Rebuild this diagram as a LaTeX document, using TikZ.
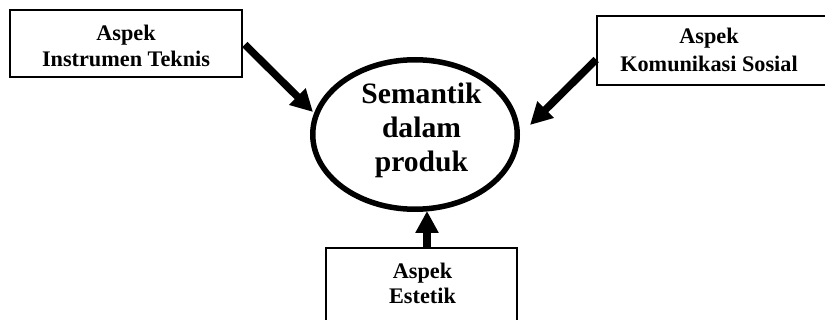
\documentclass[tikz,border=0pt]{standalone}
\usepackage{fontspec}
\setmainfont{Liberation Serif}
\usetikzlibrary{arrows.meta,shapes.geometric}
\tikzset{
  aspectbox/.style={draw, line width=1.6pt, rectangle, inner sep=0pt},
  boxtext/.style={align=center, inner sep=0pt, font=\bfseries\fontsize{22.25}{26}\selectfont},
  semellipse/.style={draw, line width=5.5pt, ellipse, inner sep=0pt,
    minimum width=204.5pt, minimum height=149.5pt},
  semtext/.style={align=center, inner sep=0pt, font=\bfseries\fontsize{29.6}{34.2}\selectfont},
  bigarrow/.style={line width=7.5pt, -{Triangle[width=22pt,length=22pt]}}
}
\begin{document}
\begin{tikzpicture}[x=1pt, y=-1pt]
\useasboundingbox (0,0) rectangle (825,320);
\node[aspectbox, minimum width=232pt, minimum height=67pt] (lb) at (126,43.5) {};
\node[boxtext] (lbt) at (126,46) {Aspek\\Instrumen Teknis};
\node[aspectbox, minimum width=229pt, minimum height=69pt] (rb) at (711.5,50.5) {};
\node[boxtext, font=\bfseries\fontsize{22.25}{28.4}\selectfont] (rbt) at (709,50) {Aspek\\Komunikasi Sosial};
\node[aspectbox, minimum width=191pt, minimum height=74pt] (bb) at (421.5,285) {};
\node[boxtext, font=\bfseries\fontsize{22.25}{25}\selectfont] (bbt) at (422.5,283) {Aspek\\Estetik};
\node[semellipse] (sem) at (415,134.5) {};
\node[semtext] (semt) at (421.5,130.5) {Semantik\\dalam\\produk};
\coordinate (tl) at (313,112);
\coordinate (tr) at (530,125);
\coordinate (tb) at (427,211);
\draw[bigarrow] ([xshift=2pt,yshift=-1pt]lb.east) -- (tl);
\draw[bigarrow] ([yshift=-9pt]rb.west) -- (tr);
\draw[bigarrow] (tb |- bb.north) -- (tb);
\end{tikzpicture}
\end{document}
